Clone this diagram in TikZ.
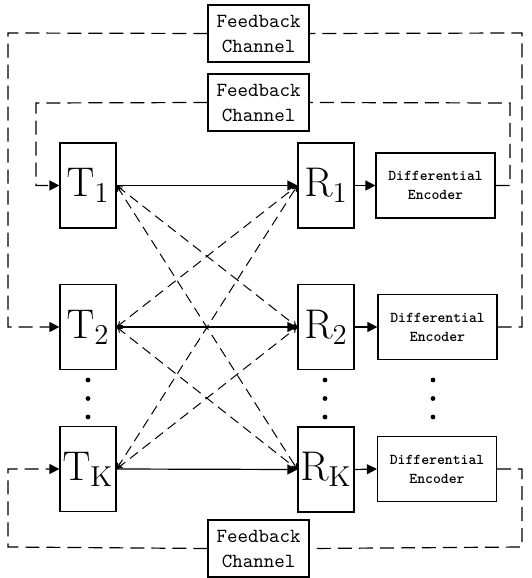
\documentclass[tikz,border=0pt]{standalone}
\usetikzlibrary{arrows.meta}
\begin{document}
\begin{tikzpicture}[x=0.5pt,y=-0.5pt,line width=0.6pt,
  txbox/.style={draw,minimum width=28pt,minimum height=42.5pt,inner sep=0pt,font=\fontsize{20}{24}\selectfont},
  debox/.style={draw,minimum width=59.5pt,minimum height=32.5pt,inner sep=0pt,align=center,font=\ttfamily\bfseries\fontsize{7.5}{9.5}\selectfont},
  fcbox/.style={draw,fill=white,minimum width=50.5pt,minimum height=28.5pt,inner sep=0pt,align=center,font=\ttfamily\fontsize{10}{12.5}\selectfont},
  fb/.style={dash pattern=on 7pt off 3.5pt},
  cross/.style={dash pattern=on 5pt off 3pt,line width=0.5pt,{To[length=3pt,width=3pt]}-{To[length=3pt,width=3pt]}},
  big/.style={-{Triangle[length=5pt,width=5pt]}},
  dot/.style={circle,fill,inner sep=0pt,minimum size=2.4pt}]
\useasboundingbox (0,0) rectangle (531,578);
% boxes
\node[txbox] (t1) at (88,185.5) {$\mathrm{T}_{1}$};
\node[txbox] (t2) at (88,327) {$\mathrm{T}_{2}$};
\node[txbox] (tk) at (88,469) {$\mathrm{T}_{\mathrm{K}}$};
\node[txbox] (r1) at (326,185.5) {$\mathrm{R}_{1}$};
\node[txbox] (r2) at (326,327) {$\mathrm{R}_{2}$};
\node[txbox] (rk) at (326,469.5) {$\mathrm{R}_{\mathrm{K}}$};
\node[debox] (d1) at (435.5,185.5) {Differential\\Encoder};
\node[debox] (d2) at (437.5,327) {Differential\\Encoder};
\node[debox] (dk) at (437,469) {Differential\\Encoder};
\node[fcbox] (fa) at (258.5,33.5) {Feedback\\Channel};
\node[fcbox] (fm) at (258.5,102.5) {Feedback\\Channel};
\node[fcbox] (fk) at (258.5,548.5) {Feedback\\Channel};
% dots
\foreach \x/\n in {88/a,325/b,433/c}{
  \node[dot] (\n1) at (\x,380) {};
  \node[dot] (\n2) at (\x,398.5) {};
  \node[dot] (\n3) at (\x,417) {};
}
% corner coordinates
\coordinate (c1) at (510,185.5);
\coordinate (c2) at (510,103);
\coordinate (c3) at (36,103);
\coordinate (c4) at (36,185.5);
\coordinate (o1) at (522,327);
\coordinate (o2) at (522,33);
\coordinate (o3) at (8,33);
\coordinate (o4) at (8,327);
\coordinate (k1) at (522,469);
\coordinate (k2) at (522,547);
\coordinate (k3) at (8,547);
\coordinate (k4) at (8,469);
% direct links
\draw[big] (t1.east) -- (r1.west);
\draw[big] (t2.east) -- (r2.west);
\draw[big] (tk.east) -- (rk.west);
\draw[big] (r1.east) -- (d1.west);
\draw[big] (r2.east) -- (d2.west);
\draw[big] (rk.east) -- (dk.west);
% cross links
\draw[cross] (t1.east) -- (r2.west);
\draw[cross] (t1.east) -- (rk.west);
\draw[cross] (t2.east) -- (r1.west);
\draw[cross] (t2.east) -- (rk.west);
\draw[cross] (tk.east) -- (r1.west);
\draw[cross] (tk.east) -- (r2.west);
% feedback loops
\draw[fb] (d1.east) -- (c1) -- (c2) -- (fm.east);
\draw[fb,big] (fm.west) -- (c3) -- (c4) -- (t1.west);
\draw[fb] (d2.east) -- (o1) -- (o2) -- (fa.east);
\draw[fb,big] (fa.west) -- (o3) -- (o4) -- (t2.west);
\draw[fb] (dk.east) -- (k1) -- (k2) -- (fk.east);
\draw[fb,big] (fk.west) -- (k3) -- (k4) -- (tk.west);
\end{tikzpicture}
\end{document}
